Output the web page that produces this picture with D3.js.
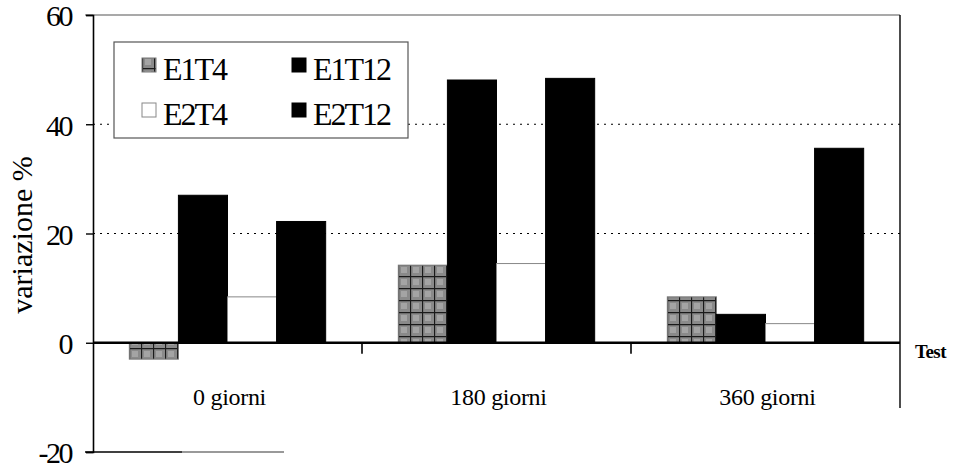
<!DOCTYPE html>
<html>
<head>
<meta charset="utf-8">
<script src="https://cdn.jsdelivr.net/npm/d3@7"></script>
<style>
  body { margin: 0; background: #fff; }
  svg { display: block; }
  svg text { font-family: "Liberation Serif", "Times New Roman", serif; fill: #000; }
</style>
</head>
<body>
<svg id="chart" width="964" height="474"></svg>
<script>
// data
const categories = ['0 giorni', '180 giorni', '360 giorni'];
const seriesNames = ['E1T4', 'E1T12', 'E2T4', 'E2T12'];
const E1T4 = [-3, 14.2, 8.4];
const E1T12 = [27, 48.1, 5.2];
const E2T4 = [8.4, 14.5, 3.5];
const E2T12 = [22.2, 48.4, 35.6];
const yTicks = [-20, 0, 20, 40, 60];

const seriesValues = { E1T4, E1T12, E2T4, E2T12 };

const margin = { left: 93, right: 64, top: 15, bottom: 22 };
const W = 964, H = 474;
const serif = '"Liberation Serif", "Times New Roman", serif';

const svg = d3.select('#chart');

// patterns
const defs = svg.append('defs');
const pat = defs.append('pattern')
  .attr('id', 'grid').attr('patternUnits', 'userSpaceOnUse')
  .attr('width', 12).attr('height', 12);
pat.append('rect').attr('width', 12).attr('height', 12).attr('fill', '#8a8a8a');
pat.append('rect').attr('x', 3).attr('y', 3).attr('width', 6).attr('height', 6).attr('fill', '#a4a4a4');
pat.append('path').attr('d', 'M0,0.5H12M0.5,0V12').attr('stroke', '#1a1a1a').attr('stroke-width', 1.3);

const fills = { E1T4: 'url(#grid)', E1T12: '#000', E2T4: '#fff', E2T12: '#000' };
const strokes = { E1T4: '#777', E1T12: '#000', E2T4: '#888', E2T12: '#000' };

const x0 = d3.scaleBand().domain(categories)
  .range([margin.left, W - margin.right]).paddingInner(0).paddingOuter(0);
const x1 = d3.scaleBand().domain(seriesNames)
  .range([0, x0.bandwidth()]).paddingOuter(0.74).paddingInner(0);
const y = d3.scaleLinear().domain([-20, 60]).range([452, margin.top]);

// gridlines (dotted) at 20 and 40
svg.append('g').selectAll('line').data([20, 40]).join('line')
  .attr('x1', margin.left).attr('x2', W - margin.right)
  .attr('y1', d => y(d)).attr('y2', d => y(d))
  .attr('stroke', '#000').attr('stroke-width', 1.2)
  .attr('stroke-dasharray', '2,5');

// top and right border
svg.append('line').attr('x1', margin.left - 8).attr('x2', W - margin.right)
  .attr('y1', y(60)).attr('y2', y(60)).attr('stroke', '#555').attr('stroke-width', 1.2);
svg.append('line').attr('x1', W - margin.right).attr('x2', W - margin.right)
  .attr('y1', y(60)).attr('y2', 408).attr('stroke', '#000').attr('stroke-width', 1.4);

// bars
const groups = svg.append('g').selectAll('g').data(categories).join('g')
  .attr('transform', d => `translate(${x0(d)},0)`);
groups.selectAll('rect')
  .data((c, i) => seriesNames.map(s => ({ s, v: seriesValues[s][i] })))
  .join('rect')
  .attr('x', d => x1(d.s))
  .attr('width', x1.bandwidth())
  .attr('y', d => y(Math.max(0, d.v)))
  .attr('height', d => Math.abs(y(d.v) - y(0)))
  .attr('fill', d => fills[d.s])
  .attr('stroke', d => strokes[d.s])
  .attr('stroke-width', 1);

// y axis
const yAxis = d3.axisLeft(y).tickValues(yTicks).tickSize(7).tickFormat(d => String(d));
const ga = svg.append('g').attr('transform', `translate(${margin.left},0)`).call(yAxis);
ga.attr('font-family', serif);
ga.select('.domain').attr('stroke', '#000').attr('stroke-width', 1.6);
ga.selectAll('.tick line').attr('stroke', '#000').attr('stroke-width', 1.4);
ga.selectAll('.tick text').attr('font-size', 30).attr('fill', '#000')
  .attr('font-family', serif).attr('x', -22).attr('dy', '0.36em')
  .attr('letter-spacing', -2.5);

// bottom line at -20
svg.append('line').attr('x1', margin.left - 8).attr('x2', 182)
  .attr('y1', y(-20)).attr('y2', y(-20)).attr('stroke', '#000').attr('stroke-width', 1.4);
svg.append('line').attr('x1', 182).attr('x2', 284)
  .attr('y1', y(-20)).attr('y2', y(-20)).attr('stroke', '#777').attr('stroke-width', 1.4);

// zero axis
svg.append('line').attr('x1', margin.left).attr('x2', W - margin.right)
  .attr('y1', y(0)).attr('y2', y(0)).attr('stroke', '#000').attr('stroke-width', 2.4);

// category dividers
const bounds = categories.slice(1).map(c => x0(c));
svg.append('g').selectAll('line').data(bounds).join('line')
  .attr('x1', d => d).attr('x2', d => d)
  .attr('y1', y(0)).attr('y2', y(0) + 11)
  .attr('stroke', '#000').attr('stroke-width', 1.6);

// category labels
svg.append('g').selectAll('text').data(categories).join('text')
  .attr('x', d => x0(d) + x0.bandwidth() / 2 + 2)
  .attr('y', 405)
  .attr('text-anchor', 'middle')
  .attr('font-family', serif)
  .attr('font-size', 24)
  .attr('letter-spacing', -0.3)
  .text(d => d);

// x axis title
svg.append('text').attr('x', 915).attr('y', 358)
  .attr('font-family', serif)
  .attr('font-size', 19).attr('font-weight', 'bold')
  .attr('letter-spacing', -0.5).text('Test');

// y axis title
svg.append('text')
  .attr('transform', 'translate(32,235) rotate(-90)')
  .attr('text-anchor', 'middle')
  .attr('font-family', serif)
  .attr('font-size', 30)
  .text('variazione %');

// legend
const lg = svg.append('g').attr('transform', 'translate(114,42)');
lg.append('rect').attr('width', 294).attr('height', 96)
  .attr('fill', '#fff').attr('stroke', '#555').attr('stroke-width', 1.2);
const items = lg.selectAll('g.item').data(seriesNames).join('g').attr('class', 'item')
  .attr('transform', (d, i) => `translate(${i % 2 === 0 ? 28 : 178},${i < 2 ? 38 : 83})`);
items.append('rect').attr('x', 0).attr('y', -22).attr('width', 14).attr('height', 14)
  .attr('fill', d => fills[d]).attr('stroke', d => strokes[d]).attr('stroke-width', 1);
items.append('text').attr('x', 21).attr('y', 0)
  .attr('font-family', serif)
  .attr('font-size', 32).attr('letter-spacing', -2)
  .text(d => d);
</script>
</body>
</html>
